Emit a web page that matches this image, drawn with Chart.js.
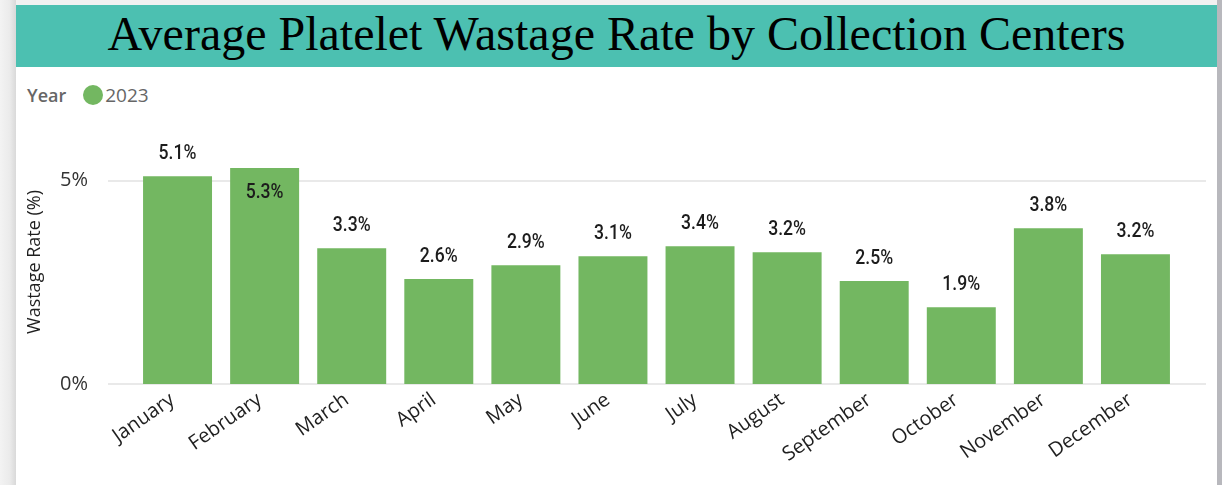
<!DOCTYPE html>
<html>
<head>
<meta charset="utf-8">
<script src="https://cdn.jsdelivr.net/npm/chart.js@4.4.1/dist/chart.umd.min.js"></script>
<style>
  html, body { margin: 0; padding: 0; }
  body { width: 1222px; height: 485px; overflow: hidden; position: relative; background: #f1f1f1; font-family: "Open Sans", sans-serif; }
  #lshadow { position: absolute; left: 0; top: 0; width: 16px; height: 485px; background: linear-gradient(to right, #f3f3f3 0%, #ebebeb 60%, #d9d9d9 100%); }
  #card { position: absolute; left: 16px; top: 5px; width: 1201px; height: 480px; background: #ffffff; }
  #rstrip { position: absolute; left: 1217px; top: 0; width: 5px; height: 485px; background: #b8b8bd; }
  #header { position: absolute; left: 16px; top: 5px; width: 1201px; height: 62px; background: #4cc0b1; color: #000; font-family: "Liberation Serif", "Times New Roman", serif; font-size: 48px; line-height: 58px; text-align: center; white-space: nowrap; overflow: hidden; }
  #legend { position: absolute; left: 27px; top: 82px; height: 26px; display: flex; align-items: center; color: #666666; }
  #legend .ttl { font-weight: 600; font-size: 18px; margin-right: 17px; }
  #legend .dot { width: 20px; height: 20px; border-radius: 50%; background: #73b761; margin-right: 2px; }
  #legend .lbl { font-size: 19px; }
  #wrap { position: absolute; left: 0; top: 67px; width: 1222px; height: 418px; }
</style>
</head>
<body>
<div id="lshadow"></div>
<div id="card"></div>
<div id="rstrip"></div>
<div id="header">Average Platelet Wastage Rate by Collection Centers</div>
<div id="legend"><span class="ttl">Year</span><span class="dot"></span><span class="lbl">2023</span></div>
<div id="wrap"><canvas id="c" width="1222" height="418"></canvas></div>
<script>
const months = ["January", "February", "March", "April", "May", "June", "July", "August", "September", "October", "November", "December"];
const rates2023 = [5.11, 5.31, 3.34, 2.58, 2.92, 3.14, 3.39, 3.24, 2.53, 1.89, 3.83, 3.19];
const yTickValues = [0, 5];
const seriesName = "2023";
const yTitle = "Wastage Rate (%)";

const gridPlugin = {
  id: 'gridExt',
  beforeDatasetsDraw(chart) {
    const ctx = chart.ctx, ys = chart.scales.y;
    ctx.save();
    ctx.strokeStyle = '#e9e9e9';
    ctx.lineWidth = 2;
    yTickValues.forEach(v => {
      const y = Math.round(ys.getPixelForValue(v));
      ctx.beginPath();
      ctx.moveTo(108, y);
      ctx.lineTo(1206, y);
      ctx.stroke();
    });
    ctx.restore();
  }
};

const labelPlugin = {
  id: 'barLabels',
  afterDatasetsDraw(chart) {
    const ctx = chart.ctx;
    const meta = chart.getDatasetMeta(0);
    const area = chart.chartArea;
    ctx.save();
    ctx.font = '500 20px Roboto, "Liberation Sans", sans-serif';
    ctx.fillStyle = '#1c1c1c';
    ctx.textAlign = 'center';
    ctx.textBaseline = 'middle';
    meta.data.forEach((bar, i) => {
      const v = chart.data.datasets[0].data[i];
      const txt = v.toFixed(1) + '%';
      let y = bar.y - 22;
      if (y - 8 < area.top) y = bar.y + 25;
      ctx.save();
      ctx.translate(bar.x, y);
      ctx.scale(0.88, 1);
      ctx.fillText(txt, 0, 0);
      ctx.restore();
    });
    // y axis title
    ctx.font = '18px "Open Sans", sans-serif';
    ctx.fillStyle = '#1f1f1f';
    ctx.translate(35, (area.top + area.bottom) / 2);
    ctx.rotate(-Math.PI / 2);
    ctx.fillText(yTitle, 0, 0);
    ctx.restore();
  }
};

new Chart(document.getElementById('c'), {
  type: 'bar',
  data: {
    labels: months,
    datasets: [{
      label: seriesName,
      data: rates2023,
      backgroundColor: '#73b761',
      borderWidth: 0,
      barPercentage: 0.792,
      categoryPercentage: 1.0
    }]
  },
  options: {
    responsive: false,
    animation: false,
    layout: { padding: { left: 0, right: 43, top: 73, bottom: 0 } },
    plugins: { legend: { display: false }, tooltip: { enabled: false } },
    scales: {
      x: {
        grid: { display: false, drawTicks: false },
        border: { display: false },
        ticks: {
          minRotation: 35, maxRotation: 35, padding: 4, labelOffset: -5,
          color: '#1f1f1f',
          font: { family: '"Open Sans", sans-serif', size: 20 }
        },
        afterFit(s) { s.height = 101; }
      },
      y: {
        min: 0, max: 6,
        grid: { display: false, drawTicks: false },
        border: { display: false },
        afterBuildTicks(s) { s.ticks = yTickValues.map(v => ({ value: v })); },
        ticks: {
          padding: 46,
          color: '#333333',
          font: { family: '"Open Sans", sans-serif', size: 20 },
          callback: v => v + '%'
        },
        afterFit(s) { s.width = 134; }
      }
    }
  },
  plugins: [gridPlugin, labelPlugin]
});
</script>
</body>
</html>
